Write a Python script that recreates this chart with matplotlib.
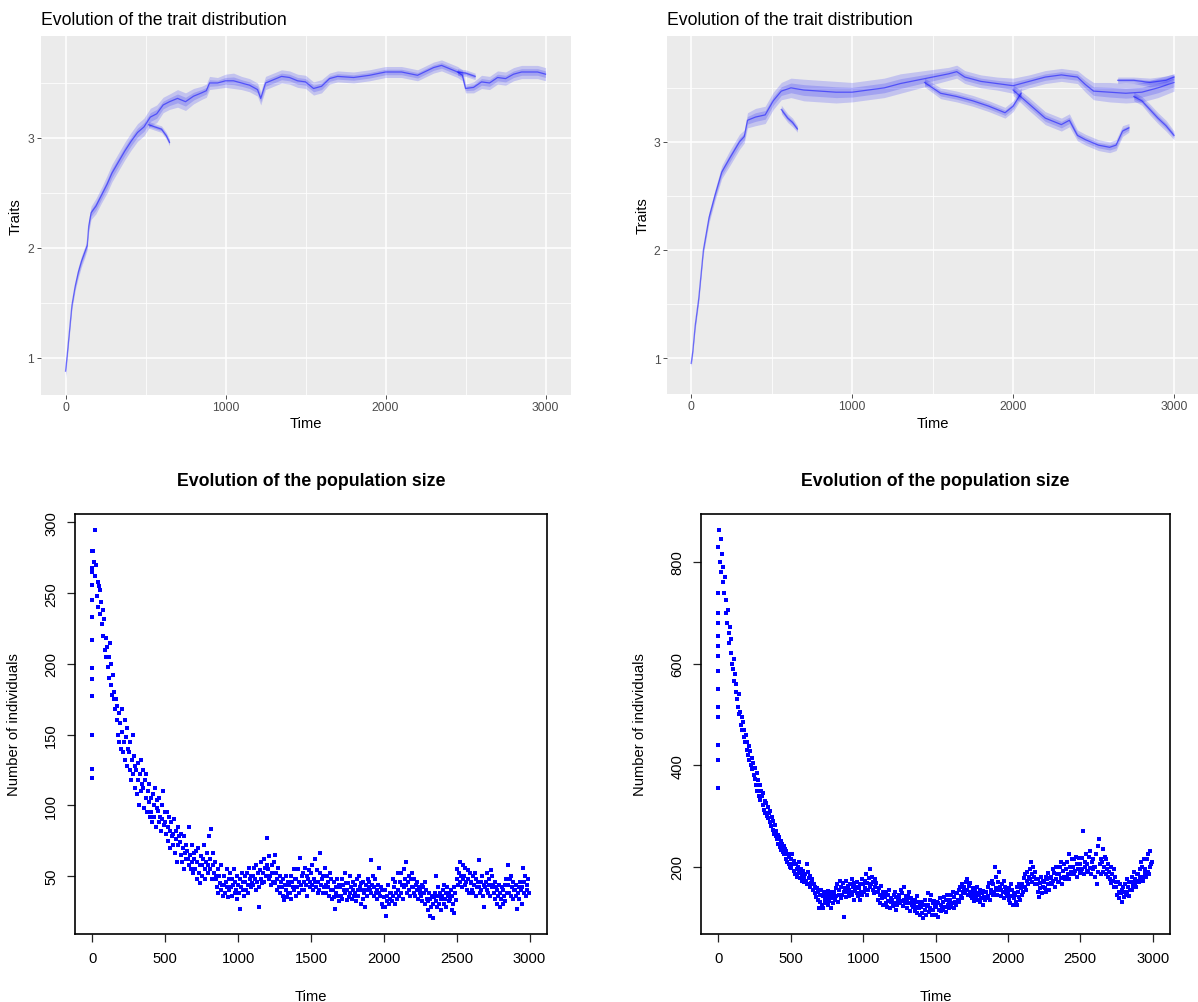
import numpy as np
import matplotlib.pyplot as plt

plt.rcParams['font.family'] = ['Liberation Sans', 'DejaVu Sans']

W, H = 1198, 1003

# ---------------- trait distribution (top), branches as (time, centre, half width) ----------------
tl_main = [(0, 0.88, 0.06), (10, 1.02, 0.04), (25, 1.25, 0.04), (40, 1.48, 0.04), (60, 1.65, 0.04),
           (80, 1.78, 0.05), (100, 1.88, 0.05), (120, 1.96, 0.05), (135, 2.02, 0.04), (145, 2.2, 0.06),
           (160, 2.32, 0.06), (190, 2.38, 0.07), (225, 2.48, 0.07), (260, 2.58, 0.08), (290, 2.68, 0.08),
           (330, 2.78, 0.08), (370, 2.88, 0.08), (410, 2.97, 0.08), (450, 3.05, 0.08), (490, 3.1, 0.08),
           (530, 3.19, 0.08), (570, 3.22, 0.08), (610, 3.3, 0.07), (650, 3.33, 0.07), (700, 3.36, 0.08),
           (750, 3.33, 0.08), (800, 3.38, 0.07), (850, 3.41, 0.06), (880, 3.43, 0.06), (900, 3.5, 0.06),
           (950, 3.5, 0.05), (1000, 3.52, 0.06), (1050, 3.52, 0.07), (1100, 3.5, 0.06), (1150, 3.48, 0.06),
           (1200, 3.44, 0.06), (1220, 3.36, 0.06), (1250, 3.5, 0.06), (1300, 3.53, 0.06), (1350, 3.56, 0.06),
           (1400, 3.55, 0.06), (1450, 3.52, 0.06), (1500, 3.51, 0.06), (1550, 3.45, 0.06), (1600, 3.47, 0.06),
           (1650, 3.54, 0.05), (1700, 3.56, 0.05), (1800, 3.55, 0.05), (1900, 3.57, 0.05), (2000, 3.6, 0.05),
           (2100, 3.6, 0.05), (2200, 3.57, 0.05), (2300, 3.64, 0.05), (2350, 3.66, 0.05), (2400, 3.63, 0.05),
           (2450, 3.6, 0.05), (2480, 3.57, 0.05), (2500, 3.45, 0.04), (2550, 3.46, 0.05), (2600, 3.51, 0.06),
           (2650, 3.5, 0.06), (2700, 3.55, 0.06), (2750, 3.54, 0.06), (2800, 3.58, 0.06), (2850, 3.6, 0.06),
           (2900, 3.6, 0.06), (2950, 3.6, 0.06), (3000, 3.58, 0.06)]
tl_side_a = [(520, 3.12, 0.03), (560, 3.1, 0.03), (600, 3.08, 0.03), (630, 3.02, 0.03), (650, 2.96, 0.03)]
tl_side_b = [(2450, 3.6, 0.03), (2500, 3.59, 0.03), (2560, 3.56, 0.03)]

tr_main = [(0, 0.95, 0.04), (10, 1.06, 0.03), (25, 1.3, 0.04), (47, 1.55, 0.04), (76, 2.0, 0.04),
           (111, 2.3, 0.05), (147, 2.5, 0.05), (190, 2.72, 0.06), (240, 2.85, 0.07), (300, 3.0, 0.07),
           (330, 3.05, 0.06), (350, 3.2, 0.07), (400, 3.23, 0.08), (460, 3.25, 0.08), (510, 3.38, 0.08),
           (560, 3.47, 0.08), (620, 3.5, 0.09), (700, 3.48, 0.1), (800, 3.47, 0.1), (900, 3.46, 0.1),
           (1000, 3.46, 0.09), (1100, 3.48, 0.09), (1200, 3.5, 0.09), (1300, 3.54, 0.09), (1400, 3.57, 0.08),
           (1500, 3.6, 0.07), (1600, 3.63, 0.06), (1650, 3.65, 0.06), (1700, 3.6, 0.06), (1800, 3.56, 0.06),
           (1900, 3.54, 0.06), (2000, 3.52, 0.07), (2100, 3.56, 0.06), (2200, 3.6, 0.06), (2300, 3.62, 0.06),
           (2400, 3.6, 0.06), (2450, 3.53, 0.07), (2500, 3.47, 0.08), (2600, 3.46, 0.09), (2700, 3.45, 0.09),
           (2800, 3.46, 0.09), (2900, 3.5, 0.09), (3000, 3.55, 0.08)]
tr_early = [(560, 3.3, 0.04), (600, 3.22, 0.04), (630, 3.18, 0.04), (660, 3.12, 0.03)]
tr_mid = [(1450, 3.55, 0.04), (1550, 3.45, 0.05), (1650, 3.42, 0.05), (1750, 3.38, 0.05),
          (1850, 3.33, 0.05), (1950, 3.27, 0.05), (2000, 3.33, 0.05), (2050, 3.45, 0.05)]
tr_low = [(2000, 3.48, 0.05), (2100, 3.35, 0.06), (2200, 3.22, 0.06), (2300, 3.16, 0.06), (2350, 3.2, 0.06),
          (2400, 3.06, 0.05), (2450, 3.02, 0.05), (2530, 2.97, 0.05), (2600, 2.95, 0.05), (2640, 2.97, 0.05),
          (2680, 3.1, 0.05), (2720, 3.13, 0.04)]
tr_end_low = [(2750, 3.42, 0.04), (2800, 3.38, 0.04), (2850, 3.3, 0.05), (2900, 3.22, 0.05),
              (2950, 3.15, 0.05), (3000, 3.06, 0.04)]
tr_end_high = [(2650, 3.57, 0.03), (2750, 3.57, 0.03), (2850, 3.55, 0.04), (2950, 3.57, 0.04), (3000, 3.6, 0.03)]

# ---------------- population size (bottom), one value every 5 time units ----------------
pop_step = 5
pop_left_start = [119, 126, 150, 177, 189, 197, 217, 233, 245, 256, 268, 280]
pop_left = [
    265, 280, 272, 295, 262, 270, 248, 258, 240, 255, 252, 235, 244, 228, 238, 220, 232, 210, 218, 205,
    212, 198, 205, 190, 215, 185, 200, 178, 192, 175, 180, 168, 175, 160, 170, 150, 165, 145, 158, 140,
    152, 168, 138, 145, 160, 132, 148, 128, 155, 140, 138, 125, 145, 118, 132, 150, 122, 135, 112, 128,
    125, 108, 130, 118, 100, 122, 132, 110, 115, 125, 112, 98, 118, 105, 122, 95, 110, 102, 115, 92,
    105, 95, 88, 108, 100, 92, 112, 85, 98, 104, 96, 88, 105, 92, 82, 100, 90, 110, 86, 95,
    88, 80, 95, 85, 75, 92, 82, 70, 88, 78, 80, 72, 90, 66, 82, 76, 60, 85, 72, 78,
    74, 65, 80, 60, 70, 55, 78, 66, 72, 62, 68, 62, 85, 58, 65, 55, 72, 60, 52, 66,
    62, 55, 68, 48, 60, 70, 52, 58, 45, 64, 58, 50, 62, 72, 55, 48, 60, 66, 52, 58,
    78, 62, 55, 83, 48, 66, 58, 52, 60, 50, 48, 42, 55, 38, 50, 45, 40, 58, 44, 36,
    44, 50, 38, 46, 55, 42, 35, 48, 40, 52, 42, 36, 48, 44, 55, 38, 46, 40, 50, 34,
    44, 38, 48, 27, 42, 52, 40, 46, 36, 50, 46, 40, 52, 44, 38, 56, 48, 42, 50, 45,
    50, 44, 56, 48, 40, 58, 46, 52, 42, 28, 54, 48, 60, 45, 52, 62, 46, 56, 50, 58,
    77, 55, 48, 64, 50, 44, 58, 52, 46, 60, 65, 45, 52, 40, 48, 56, 42, 50, 38, 46,
    42, 36, 48, 33, 44, 40, 50, 35, 46, 38, 44, 38, 50, 34, 46, 42, 55, 40, 48, 36,
    48, 42, 55, 38, 46, 63, 44, 50, 40, 52, 46, 40, 56, 44, 50, 36, 48, 54, 42, 46,
    52, 44, 58, 40, 48, 62, 46, 42, 54, 38, 46, 40, 52, 66, 44, 48, 38, 50, 42, 56,
    44, 38, 50, 42, 46, 36, 52, 40, 48, 34, 40, 35, 46, 27, 42, 38, 48, 36, 44, 32,
    42, 36, 48, 34, 44, 40, 52, 38, 45, 33, 40, 45, 35, 50, 38, 42, 34, 46, 40, 36,
    38, 44, 32, 48, 40, 36, 50, 42, 30, 45, 40, 34, 46, 38, 28, 44, 40, 36, 48, 42,
    46, 40, 61, 38, 44, 50, 36, 42, 48, 38, 40, 34, 44, 38, 56, 36, 42, 30, 40, 28,
    35, 28, 40, 22, 36, 32, 44, 30, 38, 34, 38, 32, 48, 36, 42, 30, 46, 38, 34, 52,
    40, 36, 46, 52, 38, 44, 34, 55, 42, 48, 44, 60, 38, 46, 50, 40, 36, 48, 42, 52,
    42, 38, 48, 36, 44, 40, 46, 34, 42, 38, 40, 36, 44, 32, 42, 38, 46, 30, 40, 34,
    32, 26, 38, 22, 34, 28, 36, 20, 30, 35, 38, 32, 50, 28, 36, 42, 30, 38, 34, 26,
    36, 40, 30, 44, 34, 38, 28, 42, 36, 32, 38, 34, 40, 26, 36, 30, 42, 24, 38, 33,
    48, 55, 44, 52, 60, 46, 50, 42, 58, 48, 50, 44, 56, 46, 40, 54, 48, 38, 52, 45,
    46, 40, 50, 38, 44, 52, 36, 48, 42, 46, 42, 61, 38, 46, 40, 50, 36, 44, 28, 42,
    46, 40, 52, 38, 44, 48, 36, 54, 42, 50, 44, 38, 46, 34, 42, 30, 40, 36, 44, 28,
    38, 34, 42, 30, 40, 36, 44, 32, 48, 38, 58, 44, 38, 48, 36, 50, 42, 46, 34, 40,
    40, 36, 44, 27, 38, 42, 34, 46, 40, 30, 42, 56, 38, 46, 50, 36, 44, 40, 48, 38]

pop_right_start = [355, 410, 440, 495, 515, 550, 585, 615, 635, 655, 680, 700, 740]
pop_right = [
    830, 864, 800, 845, 780, 815, 760, 790, 740, 770, 700, 725, 680, 705, 660, 640, 672, 620, 648, 600,
    590, 610, 565, 580, 545, 560, 530, 515, 540, 500, 505, 480, 495, 470, 485, 455, 470, 445, 460, 430,
    445, 420, 438, 410, 428, 400, 415, 392, 405, 380, 395, 372, 360, 385, 350, 370, 340, 360, 332, 350,
    340, 322, 345, 312, 330, 305, 325, 300, 318, 295, 305, 288, 310, 280, 298, 272, 290, 265, 282, 260,
    270, 255, 262, 245, 258, 238, 250, 232, 245, 228, 240, 225, 235, 215, 230, 210, 225, 205, 220, 200,
    215, 198, 225, 205, 192, 212, 185, 205, 195, 180, 200, 188, 210, 178, 195, 185, 172, 192, 180, 170,
    185, 172, 205, 165, 190, 178, 160, 182, 168, 175, 170, 155, 165, 148, 160, 140, 158, 135, 150, 118,
    145, 130, 155, 125, 142, 118, 150, 135, 128, 145, 140, 125, 152, 132, 145, 118, 138, 150, 128, 142,
    150, 135, 158, 142, 165, 130, 155, 145, 172, 138, 160, 145, 168, 150, 100, 158, 140, 172, 150, 162,
    155, 142, 165, 150, 175, 145, 160, 135, 168, 152, 160, 148, 170, 142, 158, 135, 165, 150, 175, 145,
    165, 150, 172, 158, 185, 145, 168, 155, 178, 160, 195, 165, 180, 155, 170, 148, 175, 160, 168, 150,
    150, 135, 158, 128, 145, 162, 138, 150, 125, 142, 140, 128, 150, 120, 145, 132, 155, 118, 138, 130,
    135, 122, 145, 128, 150, 115, 140, 125, 132, 145, 140, 128, 155, 132, 148, 122, 160, 135, 128, 142,
    135, 118, 142, 128, 150, 112, 138, 125, 132, 120, 128, 112, 135, 120, 142, 108, 130, 118, 125, 105,
    120, 108, 130, 98, 125, 115, 135, 105, 122, 148, 125, 110, 135, 118, 145, 105, 128, 115, 132, 120,
    122, 105, 130, 100, 128, 115, 138, 112, 125, 118, 130, 115, 140, 120, 135, 110, 145, 125, 132, 118,
    135, 120, 145, 128, 150, 118, 140, 130, 148, 125, 148, 135, 155, 130, 160, 142, 165, 138, 150, 158,
    160, 148, 170, 155, 175, 145, 162, 150, 168, 142, 150, 138, 158, 132, 152, 145, 140, 160, 135, 148,
    145, 130, 155, 138, 148, 125, 152, 140, 135, 150, 150, 138, 160, 142, 168, 135, 155, 148, 172, 145,
    165, 150, 200, 158, 180, 145, 170, 155, 190, 160, 155, 142, 165, 150, 172, 138, 160, 148, 155, 142,
    150, 135, 158, 128, 165, 142, 155, 125, 148, 138, 145, 130, 160, 125, 150, 140, 165, 135, 158, 145,
    165, 150, 178, 160, 185, 155, 172, 190, 165, 180, 195, 175, 210, 185, 170, 200, 180, 165, 190, 175,
    165, 150, 175, 140, 168, 158, 180, 148, 172, 160, 170, 158, 180, 150, 175, 165, 188, 155, 178, 168,
    180, 165, 195, 172, 188, 160, 200, 175, 185, 170, 185, 170, 200, 178, 210, 165, 192, 180, 205, 175,
    195, 180, 210, 185, 225, 175, 200, 190, 215, 185, 200, 185, 215, 192, 220, 180, 205, 195, 218, 188,
    205, 190, 218, 195, 270, 185, 210, 200, 225, 192, 205, 190, 220, 198, 230, 185, 210, 195, 215, 200,
    200, 180, 225, 165, 240, 190, 255, 205, 185, 215, 210, 190, 235, 200, 220, 185, 215, 195, 205, 180,
    190, 175, 200, 168, 185, 172, 195, 160, 180, 170, 160, 145, 170, 150, 138, 165, 148, 155, 130, 160,
    150, 140, 165, 145, 175, 150, 160, 142, 170, 155, 170, 155, 180, 162, 190, 168, 175, 160, 185, 172,
    185, 170, 195, 178, 210, 180, 200, 172, 215, 188, 195, 180, 215, 190, 225, 185, 200, 230, 205, 210]


def px_axes(left, top, right, bottom):
    return fig.add_axes([left / W, 1 - bottom / H, (right - left) / W, (bottom - top) / H])


def gg_panel(ax, branches, xlim, ylim):
    ax.set_facecolor('#EBEBEB')
    for s in ax.spines.values():
        s.set_visible(False)
    ax.set_xlim(*xlim)
    ax.set_ylim(*ylim)
    ax.set_xticks([0, 1000, 2000, 3000])
    ax.set_xticks([500, 1500, 2500], minor=True)
    ax.set_yticks([1, 2, 3])
    ax.set_yticks([1.5, 2.5, 3.5], minor=True)
    ax.grid(which='major', color='white', lw=1.1)
    ax.grid(which='minor', color='white', lw=0.55)
    ax.set_axisbelow(True)
    ax.tick_params(which='major', length=2.6, width=0.6, color='#333333',
                   labelsize=8.7, labelcolor='#4D4D4D', pad=2)
    ax.tick_params(which='minor', length=0)
    for rows in branches:
        t, c, hw = map(np.array, zip(*rows))
        # soft cloud of trait values, denser towards the middle
        ax.fill_between(t, c - hw, c + hw, color='blue', alpha=0.17, lw=0)
        ax.fill_between(t, c - 0.5 * hw, c + 0.5 * hw, color='blue', alpha=0.17, lw=0)
        ax.plot(t, c, color='blue', lw=0.9, alpha=0.5)
    ax.set_xlabel('Time', fontsize=10.6, va='center')
    ax.set_ylabel('Traits', fontsize=10.6, va='center')


def base_panel(ax, start_vals, vals, yticks):
    t = np.arange(len(vals)) * pop_step
    ax.plot(np.zeros(len(start_vals)), start_vals, 's', color='blue', ms=2.6, mew=0)
    ax.plot(t, vals, 's', color='blue', ms=2.8, mew=0)
    allv = np.concatenate([vals, start_vals])
    lo, hi = allv.min(), allv.max()
    pad = 0.04 * (hi - lo)
    ax.set_ylim(lo - pad, hi + pad)
    ax.set_xlim(-120, 3120)
    ax.set_xticks(range(0, 3001, 500))
    ax.set_yticks(yticks)
    for s in ax.spines.values():
        s.set_linewidth(1.2)
    ax.tick_params(length=6, width=0.9, labelsize=10.6, pad=6, color='#222222')
    for lbl in ax.get_yticklabels():
        lbl.set_rotation(90)
        lbl.set_va('center')
    ax.set_xlabel('Time', fontsize=10.6, va='center')
    ax.set_ylabel('Number of individuals', fontsize=10.6, va='center')
    ax.xaxis.set_label_coords(0.5, -0.148)
    ax.yaxis.set_label_coords(-0.130, 0.5)


fig = plt.figure(figsize=(W / 100, H / 100), dpi=100)

ax1 = px_axes(40.7, 36.7, 571, 395.7)
gg_panel(ax1, [tl_main, tl_side_a, tl_side_b], (-155, 3159), (0.666, 3.93))
ax1.xaxis.set_label_coords(0.5, -(424 - 395.7) / 359)
ax1.yaxis.set_label_coords((16 - 40.7) / 530.3, 0.5)
fig.text(40.7 / W, 1 - 20.7 / H, 'Evolution of the trait distribution', fontsize=12.7, va='center', ha='left')

ax2 = px_axes(667, 37, 1198, 395)
gg_panel(ax2, [tr_main, tr_early, tr_mid, tr_low, tr_end_low, tr_end_high], (-150, 3149), (0.667, 3.98))
ax2.xaxis.set_label_coords(0.5, -(424 - 395) / 358)
ax2.yaxis.set_label_coords((643 - 667) / 531, 0.5)
fig.text(667 / W, 1 - 20.7 / H, 'Evolution of the trait distribution', fontsize=12.7, va='center', ha='left')

ax3 = px_axes(75, 515, 547, 935)
base_panel(ax3, pop_left_start, pop_left, [50, 100, 150, 200, 250, 300])
fig.text(311 / W, 1 - 481 / H, 'Evolution of the population size', fontsize=12.8,
         fontweight='bold', ha='center', va='center')

ax4 = px_axes(701, 515, 1170, 935)
base_panel(ax4, pop_right_start, pop_right, [200, 400, 600, 800])
fig.text(935.5 / W, 1 - 481 / H, 'Evolution of the population size', fontsize=12.8,
         fontweight='bold', ha='center', va='center')

fig.savefig('out.png', dpi=100)
